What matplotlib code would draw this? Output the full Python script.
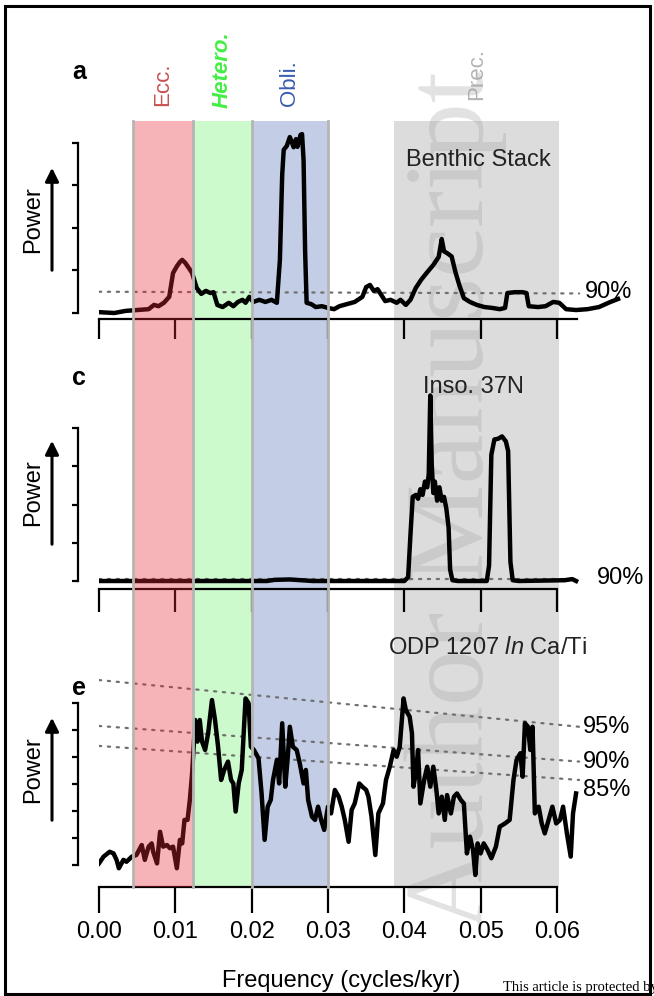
import numpy as np
import matplotlib
matplotlib.use("Agg")
import matplotlib.pyplot as plt
from matplotlib.patches import Rectangle, FancyArrowPatch

plt.rcParams.update({
    "font.family": ["Liberation Sans", "DejaVu Sans"],
    "mathtext.fontset": "custom",
    "mathtext.rm": "Liberation Sans",
    "mathtext.it": "Liberation Sans:italic",
    "axes.linewidth": 1.6,
})

# ---- orbital bands (cycles/kyr) ----
band_names = ["Ecc.", "Hetero.", "Obli.", "Prec."]
band_lo = [0.0045, 0.0123, 0.0200, 0.0386]
band_hi = [0.0123, 0.0200, 0.0300, 0.0603]
band_fill = ["#e82634", "#ccfacc", "#c3cde6", "#dcdcdc"]
band_text = ["#c85050", "#44ee44", "#3a5db0", "#b4b4b4"]

# ---- a: Benthic stack ----
freq_a = [0.0000, 0.0020, 0.0035, 0.0050, 0.0065, 0.0072, 0.0078, 0.0085, 0.0092, 0.0097,
          0.0102, 0.0106, 0.0109, 0.0113, 0.0118, 0.0122, 0.0128, 0.0134, 0.0140, 0.0146,
          0.0150, 0.0155, 0.0162, 0.0170, 0.0176, 0.0182, 0.0188, 0.0192, 0.0197, 0.0202,
          0.0210, 0.0218, 0.0226, 0.0233, 0.0237, 0.0240, 0.0242, 0.0246, 0.0250, 0.0255,
          0.0258, 0.0260, 0.0264, 0.0266, 0.0268, 0.0270, 0.0272, 0.0278, 0.0284, 0.0292,
          0.0300, 0.0308, 0.0315, 0.0325, 0.0335, 0.0345, 0.0350, 0.0355, 0.0360, 0.0365,
          0.0370, 0.0375, 0.0382, 0.0390, 0.0395, 0.0402, 0.0408, 0.0415, 0.0422, 0.0430,
          0.0438, 0.0445, 0.0449, 0.0452, 0.0456, 0.0462, 0.0467, 0.0472, 0.0478, 0.0486,
          0.0495, 0.0505, 0.0515, 0.0525, 0.0532, 0.0535, 0.0545, 0.0555, 0.0560, 0.0563,
          0.0575, 0.0585, 0.0595, 0.0603, 0.0612, 0.0625, 0.0640, 0.0655, 0.0670, 0.0680]
pow_a = [0.02, 0.00, 0.05, 0.07, 0.09, 0.19, 0.16, 0.24, 0.38, 0.94,
         1.10, 1.20, 1.25, 1.18, 1.05, 0.94, 0.59, 0.45, 0.52, 0.47,
         0.49, 0.19, 0.14, 0.24, 0.16, 0.26, 0.31, 0.24, 0.38, 0.26,
         0.31, 0.26, 0.31, 0.24, 1.25, 3.25, 3.84, 3.93, 4.14, 3.90,
         4.09, 3.91, 4.19, 4.21, 3.60, 1.48, 0.24, 0.21, 0.14, 0.16,
         0.12, 0.09, 0.16, 0.21, 0.26, 0.38, 0.61, 0.66, 0.52, 0.56,
         0.42, 0.28, 0.31, 0.24, 0.31, 0.19, 0.31, 0.59, 0.78, 0.96,
         1.13, 1.32, 1.74, 1.45, 1.41, 1.33, 0.96, 0.66, 0.35, 0.26,
         0.19, 0.14, 0.12, 0.09, 0.12, 0.47, 0.49, 0.49, 0.47, 0.16,
         0.14, 0.16, 0.26, 0.24, 0.09, 0.07, 0.09, 0.14, 0.26, 0.33]
sig_a = [0.50, 0.46]          # 90% line at both ends

# ---- c: insolation 37N ----
freq_c = [0.0000, 0.0220, 0.0230, 0.0250, 0.0265, 0.0280, 0.0400, 0.0405, 0.0408, 0.0411,
          0.0415, 0.0418, 0.0421, 0.0424, 0.0427, 0.0430, 0.0432, 0.0434, 0.0436, 0.0438,
          0.0440, 0.0443, 0.0446, 0.0449, 0.0452, 0.0455, 0.0458, 0.0460, 0.0463, 0.0470,
          0.0508, 0.0511, 0.0514, 0.0518, 0.0523, 0.0528, 0.0533, 0.0536, 0.0539, 0.0542,
          0.0550, 0.0610, 0.0620, 0.0625]
pow_c = [0.00, 0.00, 0.03, 0.04, 0.02, 0.00, 0.00, 0.10, 1.20, 2.20,
         2.25, 2.15, 2.40, 2.25, 2.60, 2.45, 2.80, 4.85, 3.00, 2.30,
         2.60, 2.10, 2.45, 2.10, 2.20, 1.90, 1.40, 0.30, 0.02, 0.00,
         0.00, 0.40, 3.30, 3.70, 3.72, 3.78, 3.65, 3.40, 0.50, 0.02,
         0.00, 0.02, 0.05, 0.00]
sig_c = [0.05, 0.05]

# ---- e: ODP 1207 ln Ca/Ti ----
freq_e = [0.0000, 0.0006, 0.0014, 0.0019, 0.0023, 0.0026, 0.0032, 0.0036, 0.0043, 0.0049,
          0.0056, 0.0060, 0.0065, 0.0069, 0.0071, 0.0076, 0.0080, 0.0084, 0.0089, 0.0093,
          0.0097, 0.0102, 0.0106, 0.0109, 0.0112, 0.0116, 0.0119, 0.0122, 0.0126, 0.0129,
          0.0132, 0.0135, 0.0139, 0.0143, 0.0148, 0.0152, 0.0156, 0.0160, 0.0164, 0.0169,
          0.0173, 0.0176, 0.0179, 0.0183, 0.0187, 0.0192, 0.0196, 0.0199, 0.0203, 0.0209,
          0.0213, 0.0217, 0.0221, 0.0225, 0.0228, 0.0233, 0.0236, 0.0240, 0.0244, 0.0247,
          0.0250, 0.0254, 0.0259, 0.0263, 0.0268, 0.0271, 0.0274, 0.0279, 0.0283, 0.0287,
          0.0291, 0.0295, 0.0300, 0.0304, 0.0309, 0.0314, 0.0318, 0.0322, 0.0327, 0.0331,
          0.0335, 0.0341, 0.0345, 0.0350, 0.0353, 0.0357, 0.0362, 0.0366, 0.0372, 0.0376,
          0.0381, 0.0386, 0.0390, 0.0394, 0.0399, 0.0402, 0.0407, 0.0410, 0.0412, 0.0415,
          0.0418, 0.0421, 0.0426, 0.0430, 0.0434, 0.0438, 0.0442, 0.0445, 0.0449, 0.0453,
          0.0456, 0.0461, 0.0465, 0.0469, 0.0474, 0.0478, 0.0482, 0.0486, 0.0490, 0.0493,
          0.0496, 0.0500, 0.0504, 0.0509, 0.0514, 0.0520, 0.0525, 0.0532, 0.0538, 0.0543,
          0.0547, 0.0552, 0.0555, 0.0558, 0.0562, 0.0565, 0.0568, 0.0571, 0.0576, 0.0580,
          0.0584, 0.0589, 0.0594, 0.0599, 0.0604, 0.0608, 0.0613, 0.0618, 0.0621, 0.0625]
pow_e = [0.06, 0.31, 0.49, 0.43, 0.19, -0.12, 0.19, 0.12, 0.31, 0.37,
         0.74, 0.19, 0.68, 0.80, 0.49, 0.06, 1.23, 0.68, 0.74, 0.62,
         0.68, -0.12, 0.93, 0.80, 1.67, 1.67, 2.41, 3.40, 5.37, 4.57,
         5.37, 4.57, 4.26, 4.88, 6.11, 5.37, 4.38, 3.15, 3.52, 3.83,
         3.15, 3.02, 1.98, 3.02, 3.52, 6.17, 5.99, 4.38, 4.26, 3.95,
         2.65, 0.93, 2.16, 2.41, 3.15, 3.89, 3.02, 5.25, 2.90, 3.89,
         5.12, 4.38, 4.26, 3.77, 3.02, 3.52, 2.41, 1.79, 1.67, 2.16,
         1.67, 1.30, 2.16, 1.91, 2.78, 2.53, 2.16, 1.67, 0.86, 2.04,
         2.28, 3.02, 2.90, 2.78, 2.53, 1.79, 0.37, 1.91, 2.28, 3.15,
         3.64, 4.26, 4.01, 4.38, 6.17, 5.74, 5.49, 4.88, 2.90, 3.40,
         4.26, 2.28, 3.15, 3.64, 2.90, 3.64, 2.78, 1.91, 2.53, 1.67,
         2.59, 1.91, 2.53, 2.65, 2.41, 2.28, 0.43, 1.05, 0.56, -0.37,
         0.80, 0.43, 0.80, 0.56, 0.25, 0.68, 1.42, 1.54, 1.67, 3.15,
         3.89, 4.14, 3.27, 5.25, 5.12, 4.26, 5.12, 1.91, 2.16, 1.54,
         1.17, 1.67, 2.16, 1.54, 1.67, 2.16, 1.17, 0.31, 1.91, 2.65]
sig_levels = ["95%", "90%", "85%"]
sig_e_start = [6.85, 5.15, 4.41]
sig_e_end = [5.12, 3.83, 3.15]
sig_freq = [0.0, 0.0629]

W, H = 654, 996
X0, PXF, FMAX = 99, 7633, 0.07      # x pixel of f=0, pixels per unit frequency

fig = plt.figure(figsize=(W / 100, H / 100), dpi=100)


def fy(py):
    return 1 - py / H


def overlay(z):
    ax = fig.add_axes([X0 / W, 0, FMAX * PXF / W, 1], zorder=z)
    ax.set_xlim(0, FMAX)
    ax.set_ylim(H, 0)
    ax.axis("off")
    ax.patch.set_visible(False)
    return ax


ax_under = overlay(0)
ax_over = overlay(3)
BAND_TOP, BAND_BOT = 121, 887
for i, (lo, hi) in enumerate(zip(band_lo, band_hi)):
    tgt = ax_over if i == 0 else ax_under
    tgt.bar(lo, BAND_BOT - BAND_TOP, width=hi - lo, bottom=BAND_TOP, align="edge",
            color=band_fill[i], alpha=0.35 if i == 0 else 1.0, lw=0)
for xe in [band_lo[0], band_hi[0], band_hi[1], band_hi[2]]:
    ax_over.plot([xe, xe], [BAND_TOP, BAND_BOT], color="#b5b5b5", lw=2.0)

label_bottom = [106, 108, 106, 100]
for i, name in enumerate(band_names):
    kw = dict(fontweight="bold", fontstyle="italic") if name == "Hetero." else {}
    ax_under.text((band_lo[i] + band_hi[i]) / 2, label_bottom[i], name, rotation=90,
                  ha="center", va="bottom", fontsize=16, color=band_text[i], **kw)

# watermark
ax_under.text(0.0467, 500, "Author Manuscript", rotation=90, ha="center", va="center",
              fontsize=81, family="Liberation Serif", color="#a0a0a0", alpha=0.3)


def panel(top, bottom, y0, ppu, nticks, xend, ticklen):
    ax = fig.add_axes([X0 / W, fy(bottom), FMAX * PXF / W, (bottom - top) / H], zorder=1)
    ax.patch.set_visible(False)
    ax.set_xlim(0, FMAX)
    ax.set_ylim((y0 - bottom) / ppu, (y0 - top) / ppu)
    for s in ["top", "right"]:
        ax.spines[s].set_visible(False)
    ax.spines["left"].set_position(("outward", 15.1))
    ax.spines["left"].set_bounds(0, nticks)
    ax.spines["bottom"].set_bounds(0, xend)
    ax.set_yticks(range(nticks + 1))
    ax.set_yticklabels([])
    ax.set_xticks(np.arange(0, 0.0601, 0.01))
    ax.tick_params(axis="y", direction="out", length=4.5, width=1.6)
    ax.tick_params(axis="x", direction="out", length=ticklen * 0.72, width=1.6,
                   labelsize=17, pad=6)
    ax.xaxis.set_major_formatter(plt.FuncFormatter(lambda v, _: f"{v:.2f}"))
    return ax


dot = dict(color="#707070", lw=1.6, ls=(0, (1, 3)), dash_capstyle="round")
curve = dict(color="black", lw=3.2, solid_joinstyle="round")

ax_a = panel(121, 319, 313, 42.5, 4, 0.0626, 20)
ax_a.plot(sig_freq, sig_a, **dot)
ax_a.plot(freq_a, pow_a, **curve)
ax_a.tick_params(axis="x", labelbottom=False)

ax_c = panel(380, 589, 581, 38.25, 4, 0.060, 23)
ax_c.plot(sig_freq, sig_c, **dot)
ax_c.plot(freq_c, pow_c, **curve)
ax_c.tick_params(axis="x", labelbottom=False)

ax_e = panel(650, 887, 865, 27.0, 6, 0.060, 26)
for s0, s1 in zip(sig_e_start, sig_e_end):
    ax_e.plot(sig_freq, [s0, s1], **dot)
ax_e.plot(freq_e, pow_e, **curve)


def ftext(x, y, s, **kw):
    fig.text(x / W, fy(y), s, **kw)


ftext(79, 72, "a", fontsize=18, fontweight="bold", ha="center", va="center")
ftext(79, 378, "c", fontsize=18, fontweight="bold", ha="center", va="center")
ftext(79, 688, "e", fontsize=18, fontweight="bold", ha="center", va="center")

ftext(478, 160, "Benthic Stack", fontsize=17, ha="center", va="center", color="#222222")
ftext(473, 387, "Inso. 37N", fontsize=17, ha="center", va="center", color="#222222")
ftext(487, 648, r"ODP 1207 $\it{ln}$ Ca/Ti", fontsize=17, ha="center", va="center",
      color="#222222")

ftext(585, 292, "90%", fontsize=17, ha="left", va="center")
ftext(597, 578, "90%", fontsize=17, ha="left", va="center")
for lab, yy in zip(sig_levels, [727, 762, 790]):
    ftext(583, yy, lab, fontsize=17, ha="left", va="center")

for yc, (ya, yb) in zip([220, 493, 770], [(273, 165), (547, 438), (823, 715)]):
    ftext(33, yc, "Power", fontsize=17, rotation=90, ha="center", va="center")
    fig.add_artist(FancyArrowPatch((52 / W, fy(ya)), (52 / W, fy(yb)),
                                   transform=fig.transFigure, arrowstyle="-|>",
                                   mutation_scale=20, lw=2.2, color="black"))

ftext(341, 981, "Frequency (cycles/kyr)", fontsize=17, ha="center", va="center")
ftext(503, 987, "This article is protected by copyright. All rights reserved",
      fontsize=10.5, family="Liberation Serif", ha="left", va="center")

fig.add_artist(Rectangle((5 / W, fy(994)), 645 / W, 988 / H, transform=fig.transFigure,
                         fill=False, lw=2.2, ec="black"))

fig.savefig("out.png", dpi=100)
